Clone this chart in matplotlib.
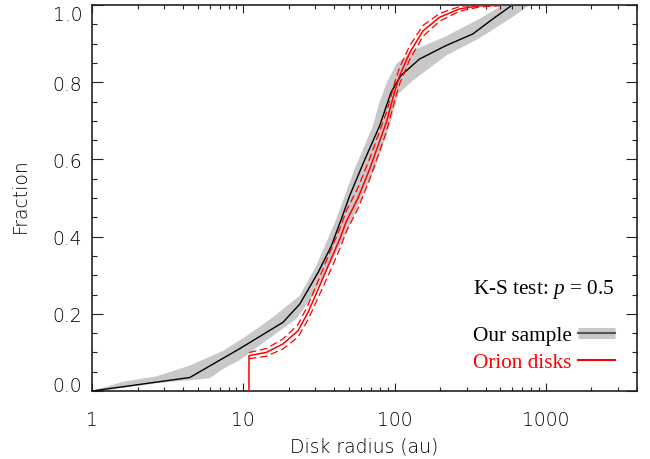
import matplotlib
matplotlib.use("Agg")
import numpy as np
import matplotlib.pyplot as plt
from matplotlib.lines import Line2D
from matplotlib.ticker import FixedLocator, FixedFormatter, MultipleLocator, NullFormatter

# ---------------- data ----------------
sample_r = [1, 4.43, 9.5, 18.3, 23.6, 31.2, 38.2, 44.5, 50.5, 62, 79.6, 95, 110, 146, 219, 329, 446, 600]
sample_f = [0, 0.035, 0.11, 0.178, 0.225, 0.307, 0.376, 0.446, 0.506, 0.59, 0.687, 0.775, 0.817, 0.860, 0.895, 0.925, 0.964, 1.0]

band_upper_r = [1, 1.61, 2.67, 4.43, 7.36, 11.0, 15.7, 23.6, 30.4, 37.2, 41.2, 54.4, 71.9, 79, 89, 103, 132, 219, 364, 520]
band_upper_f = [0, 0.024, 0.038, 0.066, 0.104, 0.148, 0.191, 0.247, 0.325, 0.405, 0.446, 0.575, 0.687, 0.745, 0.80, 0.848, 0.882, 0.919, 0.964, 1.0]
band_lower_r = [1, 1.3, 2.67, 6.0, 7.36, 9.48, 15.7, 22.4, 28.9, 37.2, 48.0, 73.8, 92.7, 106, 132, 219, 364, 604, 780]
band_lower_f = [0, 0.003, 0.020, 0.033, 0.057, 0.080, 0.143, 0.187, 0.247, 0.325, 0.411, 0.575, 0.687, 0.770, 0.804, 0.869, 0.914, 0.969, 1.0]

orion_r = [10.9, 10.9, 14.2, 18.3, 23.0, 26.8, 32.0, 37.2, 43.4, 48.0, 57.3, 68.4, 88.2, 100, 108, 126, 154, 198, 269, 364, 600]
orion_f = [0, 0.0915, 0.100, 0.122, 0.156, 0.204, 0.273, 0.333, 0.394, 0.440, 0.500, 0.575, 0.696, 0.775, 0.817, 0.877, 0.933, 0.968, 0.990, 0.998, 1.0]
orion_err = [0, 0.008, 0.010, 0.013, 0.016, 0.019, 0.022, 0.025, 0.026, 0.027, 0.027, 0.027, 0.025, 0.023, 0.021, 0.018, 0.014, 0.010, 0.006, 0.003, 0.0]

x_ticks = [1, 10, 100, 1000]
x_ticklabels = ["1", "10", "100", "1000"]
y_ticks = [0.0, 0.2, 0.4, 0.6, 0.8, 1.0]
y_ticklabels = ["0.0", "0.2", "0.4", "0.6", "0.8", "1.0"]

ks_text = "K-S test: $p$ = 0.5"
legend_labels = ["Our sample", "Orion disks"]

# ---------------- styling ----------------
plt.rcParams["mathtext.fontset"] = "custom"
plt.rcParams["mathtext.rm"] = "Liberation Serif"
plt.rcParams["mathtext.it"] = "Liberation Serif:italic"

axis_font = dict(family="DejaVu Sans", size=13.5, color="#000000", weight=200)
serif_size = 15.3

fig = plt.figure(figsize=(6.5, 4.6), dpi=100)
ax = fig.add_axes([92 / 650, 1 - 392 / 460, 545 / 650, 386 / 460])

# gray band
band_x = np.concatenate([band_upper_r, band_lower_r[::-1]])
band_y = np.concatenate([band_upper_f, band_lower_f[::-1]])
ax.fill(band_x, band_y, color="#c8c8c8", lw=0, zorder=1)

# black line
ax.plot(sample_r, sample_f, color="black", lw=1.0, zorder=3)

# Orion (red)
of = np.array(orion_f)
oe = np.array(orion_err)
ax.plot(orion_r, orion_f, color="red", lw=1.1, zorder=4)
ax.plot(orion_r[1:], (of + oe)[1:], color="red", lw=0.9, ls=(0, (6, 3)), zorder=4)
ax.plot(orion_r[1:], (of - oe)[1:], color="red", lw=0.9, ls=(0, (6, 3)), zorder=4)

ax.set_xscale("log")
ax.set_xlim(1, 4000)
ax.set_ylim(0, 1.0)

ax.xaxis.set_major_locator(FixedLocator(x_ticks))
ax.xaxis.set_major_formatter(FixedFormatter(x_ticklabels))
minor = [m * 10 ** d for d in range(0, 4) for m in range(2, 10)]
ax.xaxis.set_minor_locator(FixedLocator(minor))
ax.xaxis.set_minor_formatter(NullFormatter())
ax.yaxis.set_major_locator(FixedLocator(y_ticks))
ax.yaxis.set_major_formatter(FixedFormatter(y_ticklabels))
ax.yaxis.set_minor_locator(MultipleLocator(0.05))

ax.tick_params(which="both", direction="in", top=True, right=True, width=0.8, color="#222222")
ax.xaxis.set_tick_params(which="major", length=5.5, pad=14)
ax.xaxis.set_tick_params(which="minor", length=2.8)
ax.yaxis.set_tick_params(which="major", length=7.8, pad=7)
ax.yaxis.set_tick_params(which="minor", length=3.9)
for lab in ax.get_xticklabels() + ax.get_yticklabels():
    lab.set_fontfamily(axis_font["family"])
    lab.set_fontsize(axis_font["size"])
    lab.set_color(axis_font["color"])
    lab.set_fontweight(axis_font["weight"])
ylabs = ax.get_yticklabels()
ylabs[0].set_va("baseline")
ylabs[-1].set_va("top")
for s in ax.spines.values():
    s.set_linewidth(1.2)
    s.set_color("#222222")

fig.text(363.7 / 650, 1 - 452.7 / 460, "Disk radius (au)", ha="center", va="baseline", **axis_font)
fig.text(20 / 650, 1 - 196 / 460, "Fraction", rotation=90, ha="center", va="center", **axis_font)

ax.text((473 - 92) / 545, (392 - 290) / 386, ks_text, transform=ax.transAxes,
        ha="left", va="center", color="black", family="Liberation Serif", size=serif_size)

h_sample = (Line2D([], [], color="#c8c8c8", lw=8, solid_capstyle="butt"),
            Line2D([], [], color="#555555", lw=1.5))
h_orion = Line2D([], [], color="red", lw=1.5)
leg = ax.legend([h_sample, h_orion], legend_labels, loc="lower right",
                bbox_to_anchor=((615 - 92) / 545, (392 - 373) / 386),
                markerfirst=False, frameon=False,
                prop=dict(family="Liberation Serif", size=serif_size),
                handlelength=1.75, handletextpad=0.3, labelspacing=0.33,
                borderaxespad=0, borderpad=0)
for t, c in zip(leg.get_texts(), ["black", "red"]):
    t.set_color(c)

fig.savefig("out.png", dpi=100)
